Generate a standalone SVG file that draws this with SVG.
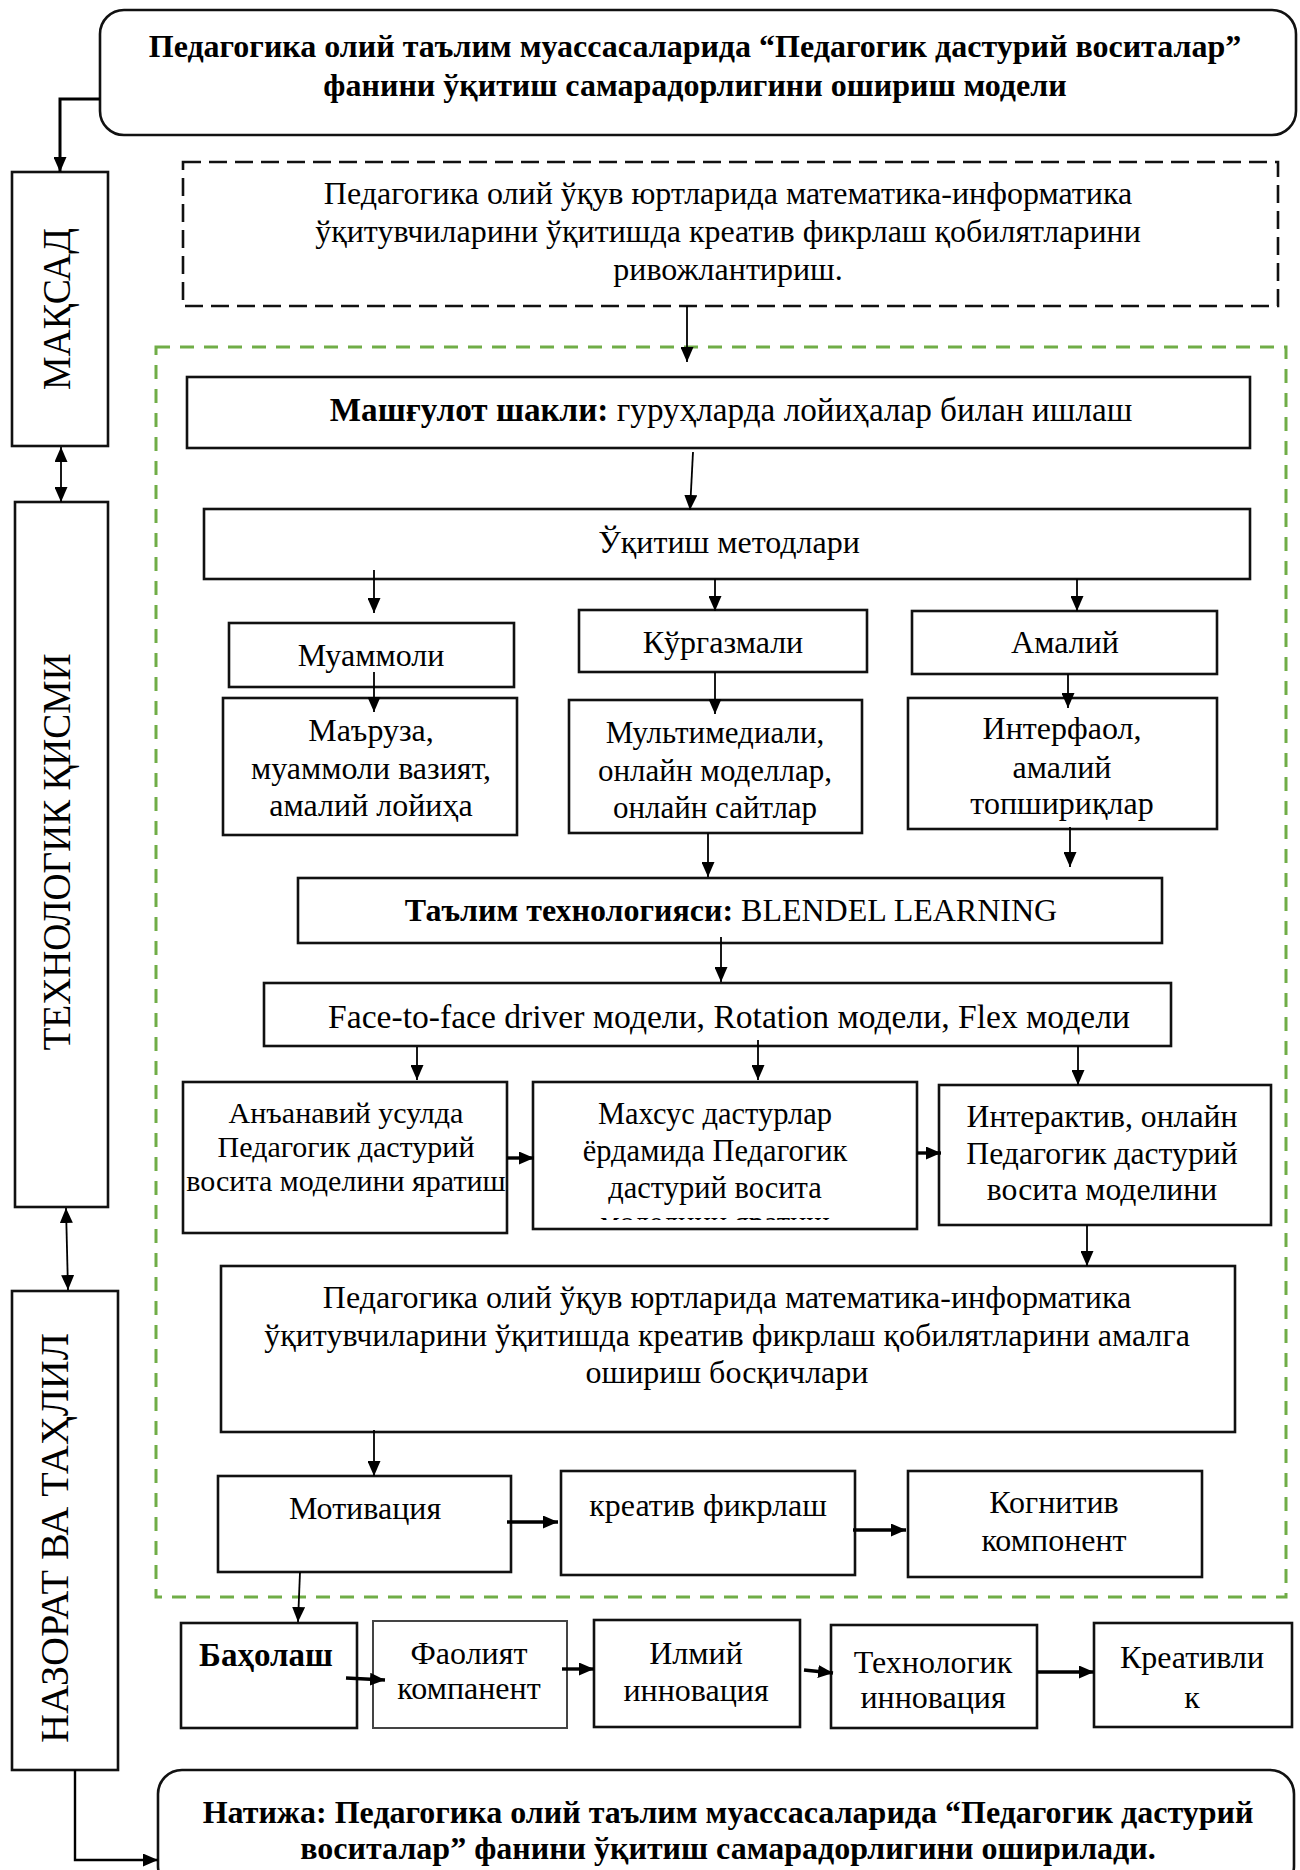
<svg xmlns="http://www.w3.org/2000/svg" width="1300" height="1870" viewBox="0 0 1300 1870">
<style>
.box{fill:#fff;stroke:#111;stroke-width:2.6}
.thin{fill:#fff;stroke:#444;stroke-width:2}
.t{font-family:"Liberation Serif","Times New Roman",serif;font-size:32px;fill:#000;text-anchor:middle}
.b{font-weight:bold}
.v{font-family:"Liberation Serif","Times New Roman",serif;font-size:40px;fill:#000;text-anchor:middle}
#connectors path{stroke:#000;stroke-width:1.8;fill:none;marker-end:url(#ah)}
#connectors path.k{stroke-width:3.4}
#connectors path.d{marker-start:url(#ah)}
</style>
<defs>
<marker id="ah" markerWidth="15" markerHeight="13" refX="15" refY="6.5" orient="auto-start-reverse" markerUnits="userSpaceOnUse"><path d="M0,0 L15,6.5 L0,13 z" fill="#000"/></marker>
<clipPath id="clipM"><rect x="533" y="1082" width="384" height="138"/></clipPath>
</defs>
<rect width="1300" height="1870" fill="#fff"/>

<g id="frame-green"><rect x="156" y="347" width="1130" height="1250" fill="none" stroke="#70AD47" stroke-width="3" stroke-dasharray="14,10"/></g>

<g id="title"><rect x="100" y="10" width="1196" height="125" rx="24" class="box"/>
<text class="t b" x="695" y="57">Педагогика олий таълим муассасаларида “Педагогик дастурий воситалар”</text>
<text class="t b" x="695" y="96">фанини ўқитиш самарадорлигини ошириш модели</text></g>

<g id="goal-text"><rect x="183" y="162" width="1095" height="144" fill="#fff" stroke="#111" stroke-width="2.6" stroke-dasharray="18,8"/>
<text class="t" x="728" y="204">Педагогика олий ўқув юртларида математика-информатика</text>
<text class="t" x="728" y="242">ўқитувчиларини ўқитишда креатив фикрлаш қобилятларини</text>
<text class="t" x="728" y="280">ривожлантириш.</text></g>

<g id="maqsad"><rect x="12" y="172" width="96" height="274" class="box"/>
<text class="v" transform="translate(70,309) rotate(-90)" textLength="162" lengthAdjust="spacingAndGlyphs">МАҚСАД</text></g>
<g id="texnologik"><rect x="15" y="502" width="93" height="705" class="box"/>
<text class="v" transform="translate(70,852) rotate(-90)" textLength="397" lengthAdjust="spacingAndGlyphs">ТЕХНОЛОГИК ҚИСМИ</text></g>
<g id="nazorat"><rect x="12" y="1291" width="106" height="479" class="box"/>
<text class="v" transform="translate(68,1538) rotate(-90)" textLength="410" lengthAdjust="spacingAndGlyphs">НАЗОРАТ ВА ТАҲЛИЛ</text></g>

<g id="mashgulot"><rect x="187" y="377" width="1063" height="71" class="box"/>
<text class="t" x="731" y="421" style="font-size:33.2px"><tspan class="b">Машғулот шакли:</tspan> гуруҳларда лойиҳалар билан ишлаш</text></g>
<g id="uqitish"><rect x="204" y="509" width="1046" height="70" class="box"/>
<text class="t" x="729" y="553">Ўқитиш методлари</text></g>

<g id="muammoli"><rect x="229" y="623" width="285" height="64" class="box"/>
<text class="t" x="371" y="666">Муаммоли</text></g>
<g id="kurgazmali"><rect x="579" y="610" width="288" height="62" class="box"/>
<text class="t" x="723" y="653">Кўргазмали</text></g>
<g id="amaliy"><rect x="912" y="611" width="305" height="63" class="box"/>
<text class="t" x="1065" y="653">Амалий</text></g>

<g id="maruza"><rect x="223" y="698" width="294" height="137" class="box"/>
<text class="t" x="371" y="741">Маъруза,</text>
<text class="t" x="371" y="779">муаммоли вазият,</text>
<text class="t" x="371" y="816">амалий лойиҳа</text></g>
<g id="multimedia"><rect x="569" y="700" width="293" height="133" class="box"/>
<text class="t" x="715" y="743" style="font-size:31px">Мультимедиали,</text>
<text class="t" x="715" y="781" style="font-size:31px">онлайн моделлар,</text>
<text class="t" x="715" y="818" style="font-size:31px">онлайн сайтлар</text></g>
<g id="interfaol"><rect x="908" y="698" width="309" height="131" class="box"/>
<text class="t" x="1062" y="739">Интерфаол,</text>
<text class="t" x="1062" y="778">амалий</text>
<text class="t" x="1062" y="814">топшириқлар</text></g>

<g id="talim"><rect x="298" y="878" width="864" height="65" class="box"/>
<text class="t" x="731" y="921"><tspan class="b">Таълим технологияси:</tspan> BLENDEL LEARNING</text></g>
<g id="face"><rect x="264" y="983" width="907" height="63" class="box"/>
<text class="t" x="729" y="1028" style="font-size:33.6px">Face-to-face driver модели, Rotation модели, Flex модели</text></g>

<g id="ananaviy"><rect x="183" y="1082" width="324" height="151" class="box"/>
<text class="t" x="346" y="1123" style="font-size:30px">Анъанавий усулда</text>
<text class="t" x="346" y="1157" style="font-size:30px">Педагогик дастурий</text>
<text class="t" x="346" y="1191" style="font-size:30px">восита моделини яратиш</text></g>
<g id="maxsus"><rect x="533" y="1082" width="384" height="147" class="box"/>
<text class="t" x="715" y="1124" style="font-size:30.5px">Махсус дастурлар</text>
<text class="t" x="715" y="1161" style="font-size:30.5px">ёрдамида Педагогик</text>
<text class="t" x="715" y="1198" style="font-size:30.5px">дастурий восита</text>
<text class="t" x="715" y="1233" style="font-size:30.5px" clip-path="url(#clipM)">моделини яратиш</text></g>
<g id="interaktiv"><rect x="939" y="1085" width="332" height="140" class="box"/>
<text class="t" x="1102" y="1127" style="font-size:31.7px">Интерактив, онлайн</text>
<text class="t" x="1102" y="1164" style="font-size:31.7px">Педагогик дастурий</text>
<text class="t" x="1102" y="1200" style="font-size:31.7px">восита моделини</text></g>

<g id="bosqich"><rect x="221" y="1266" width="1014" height="166" class="box"/>
<text class="t" x="727" y="1308">Педагогика олий ўқув юртларида математика-информатика</text>
<text class="t" x="727" y="1346">ўқитувчиларини ўқитишда креатив фикрлаш қобилятларини амалга</text>
<text class="t" x="727" y="1383">ошириш босқичлари</text></g>

<g id="motivatsiya"><rect x="218" y="1476" width="293" height="96" class="box"/>
<text class="t" x="365" y="1519">Мотивация</text></g>
<g id="kreativ"><rect x="561" y="1471" width="294" height="104" class="box"/>
<text class="t" x="708" y="1516">креатив фикрлаш</text></g>
<g id="kognitiv"><rect x="908" y="1471" width="294" height="106" class="box"/>
<text class="t" x="1054" y="1513">Когнитив</text>
<text class="t" x="1054" y="1551">компонент</text></g>

<g id="baholash"><rect x="181" y="1623" width="176" height="105" class="box"/>
<text class="t b" x="266" y="1666" style="font-size:33px">Баҳолаш</text></g>
<g id="faoliyat"><rect x="373" y="1621" width="194" height="107" class="thin"/>
<text class="t" x="469" y="1664">Фаолият</text>
<text class="t" x="469" y="1699">компанент</text></g>
<g id="ilmiy"><rect x="594" y="1620" width="206" height="107" class="box"/>
<text class="t" x="696" y="1664">Илмий</text>
<text class="t" x="696" y="1701">инновация</text></g>
<g id="texinnov"><rect x="831" y="1625" width="206" height="103" class="box"/>
<text class="t" x="933" y="1673">Технологик</text>
<text class="t" x="933" y="1708">инновация</text></g>
<g id="kreativlik"><rect x="1094" y="1623" width="198" height="104" class="box"/>
<text class="t" x="1192" y="1668">Креативли</text>
<text class="t" x="1192" y="1708">к</text></g>

<g id="natija"><rect x="158" y="1770" width="1136" height="120" rx="24" class="box"/>
<text class="t b" x="728" y="1823">Натижа: Педагогика олий таълим муассасаларида “Педагогик дастурий</text>
<text class="t b" x="728" y="1859">воситалар” фанини ўқитиш самарадорлигини оширилади.</text></g>

<g id="connectors">
<path d="M100,99 H60 V172" style="stroke-width:3"/>
<path class="d" d="M61,447 V502"/>
<path class="d" d="M66,1208 L68,1290"/>
<path d="M75,1770 V1860 H158" style="stroke-width:2.4"/>
<path d="M687,306 V362"/>
<path d="M693,452 L690,510"/>
<path d="M374,570 V613"/>
<path d="M715,579 V611"/>
<path d="M1077,579 V611"/>
<path d="M374,672 V712"/>
<path d="M715,672 V714"/>
<path d="M1068,674 V708"/>
<path d="M708,833 V877"/>
<path d="M1070,827 V867"/>
<path d="M721,937 V982"/>
<path d="M417,1047 V1080"/>
<path d="M758,1040 V1080"/>
<path d="M1078,1046 V1085"/>
<path class="k" d="M507,1158 H534"/>
<path class="k" d="M917,1153 H941"/>
<path d="M1087,1225 V1266"/>
<path d="M374,1430 V1476"/>
<path class="k" d="M507,1522 H558"/>
<path class="k" d="M853,1530 H906"/>
<path d="M300,1572 L298,1622"/>
<path class="k" d="M346,1678 L385,1680"/>
<path class="k" d="M562,1669 H594"/>
<path class="k" d="M804,1670 L833,1673"/>
<path class="k" d="M1037,1672 H1094"/>
</g>
</svg>
